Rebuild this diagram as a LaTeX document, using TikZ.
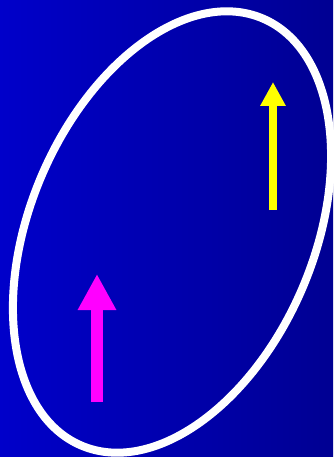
\documentclass[tikz,border=0pt]{standalone}
\usetikzlibrary{arrows.meta}
\usetikzlibrary{positioning}
\definecolor{bgleft}{RGB}{0,0,202}
\definecolor{bgright}{RGB}{0,0,146}
\definecolor{spinup}{RGB}{255,0,255}
\definecolor{spinyel}{RGB}{255,255,0}
\tikzset{
  bigarrow/.style={line width=12pt,-{Triangle[length=36pt,width=36pt]}},
  smallarrow/.style={line width=8pt,-{Triangle[length=24pt,width=24pt]}}
}

\begin{document}
\begin{tikzpicture}[x=1pt,y=-1pt]
\useasboundingbox (0,0) rectangle (333,457);
\shade[left color=bgleft,right color=bgright] (0,0) rectangle (333,457);
\draw[white,line width=8pt] (172,232) ellipse [x radius=232, y radius=142, rotate=67];
\draw[spinup,bigarrow] (97,402) -- (97,274);
\draw[spinyel,smallarrow] (273,210) -- (273,82);
\end{tikzpicture}
\end{document}
